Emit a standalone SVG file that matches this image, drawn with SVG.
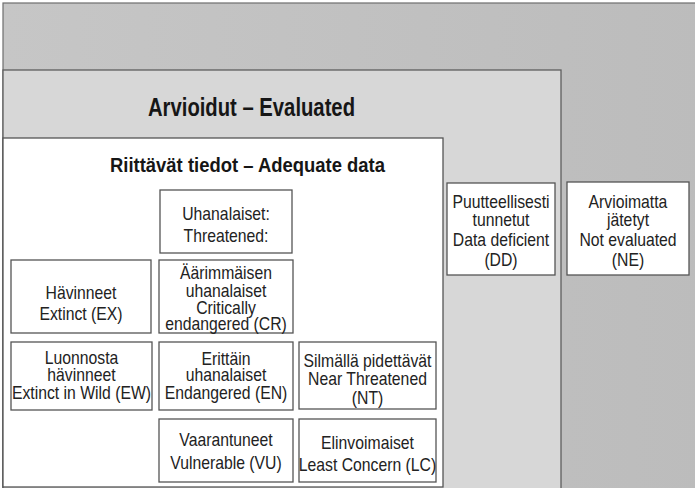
<svg xmlns="http://www.w3.org/2000/svg" width="695" height="488" viewBox="0 0 695 488">
<style>
.bg-outer{fill:#c2c2c2;stroke:#6e6e6e;stroke-width:1.2}
.bg-mid{fill:#d7d7d7;stroke:#5e5e5e;stroke-width:1.3}
.bg-in{fill:#ffffff;stroke:#555;stroke-width:1.3}
.box{fill:#ffffff;stroke:#555;stroke-width:1.3}
.t{font-family:"Liberation Sans",Arial,sans-serif;font-size:19px;fill:#222;text-anchor:middle}
.h{font-family:"Liberation Sans",Arial,sans-serif;font-weight:bold;fill:#161616}
</style>
<defs>
<linearGradient id="g1" x1="0" y1="0" x2="1" y2="0">
<stop offset="0" stop-color="#c6c6c6"/>
<stop offset="1" stop-color="#bcbcbc"/>
</linearGradient>
</defs>
<g id="not-evaluated-area">
<rect x="3" y="3" width="700" height="492" class="bg-outer" style="fill:url(#g1)"/>
</g>
<g id="evaluated-area">
<rect x="3" y="70" width="558" height="425" class="bg-mid"/>
<text class="h" x="148" y="116" font-size="25" textLength="207" lengthAdjust="spacingAndGlyphs">Arvioidut – Evaluated</text>
</g>
<g id="adequate-data-area">
<rect x="3" y="138" width="440" height="349" class="bg-in"/>
<text class="h" x="110" y="172" font-size="20" textLength="275" lengthAdjust="spacingAndGlyphs">Riittävät tiedot – Adequate data</text>
</g>
<g id="threatened">
<rect x="160" y="190" width="132" height="63" class="box"/>
<g transform="translate(226 0) scale(0.83 1)"><text class="t" x="0" y="220">Uhanalaiset:</text><text class="t" x="0" y="242">Threatened:</text></g>
</g>
<g id="ex">
<rect x="11" y="260" width="140" height="73" class="box"/>
<g transform="translate(81 0) scale(0.83 1)"><text class="t" x="0" y="299">Hävinneet</text><text class="t" x="0" y="320">Extinct (EX)</text></g>
</g>
<g id="cr">
<rect x="159" y="260" width="134" height="73" class="box"/>
<g transform="translate(226 0) scale(0.83 1)"><text class="t" x="0" y="279">Äärimmäisen</text><text class="t" x="0" y="297">uhanalaiset</text><text class="t" x="0" y="314">Critically</text><text class="t" x="0" y="330">endangered (CR)</text></g>
</g>
<g id="ew">
<rect x="11" y="342" width="141" height="68" class="box"/>
<g transform="translate(81.5 0) scale(0.83 1)"><text class="t" x="0" y="364">Luonnosta</text><text class="t" x="0" y="381">hävinneet</text><text class="t" x="0" y="399">Extinct in Wild (EW)</text></g>
</g>
<g id="en">
<rect x="159" y="342" width="134" height="68" class="box"/>
<g transform="translate(226 0) scale(0.83 1)"><text class="t" x="0" y="365">Erittäin</text><text class="t" x="0" y="381">uhanalaiset</text><text class="t" x="0" y="399">Endangered (EN)</text></g>
</g>
<g id="nt">
<rect x="299" y="342" width="137" height="67" class="box"/>
<g transform="translate(367.5 0) scale(0.83 1)"><text class="t" x="0" y="367">Silmällä pidettävät</text><text class="t" x="0" y="385">Near Threatened</text><text class="t" x="0" y="404">(NT)</text></g>
</g>
<g id="vu">
<rect x="159" y="419" width="134" height="63" class="box"/>
<g transform="translate(226 0) scale(0.83 1)"><text class="t" x="0" y="446">Vaarantuneet</text><text class="t" x="0" y="469">Vulnerable (VU)</text></g>
</g>
<g id="lc">
<rect x="299" y="419" width="137" height="63" class="box"/>
<g transform="translate(367.5 0) scale(0.83 1)"><text class="t" x="0" y="449">Elinvoimaiset</text><text class="t" x="0" y="471">Least Concern (LC)</text></g>
</g>
<g id="dd">
<rect x="447" y="183" width="108" height="92" class="box"/>
<g transform="translate(501 0) scale(0.83 1)"><text class="t" x="0" y="208">Puutteellisesti</text><text class="t" x="0" y="226">tunnetut</text><text class="t" x="0" y="246">Data deficient</text><text class="t" x="0" y="266">(DD)</text></g>
</g>
<g id="ne">
<rect x="567" y="182" width="122" height="93" class="box"/>
<g transform="translate(628 0) scale(0.83 1)"><text class="t" x="0" y="208">Arvioimatta</text><text class="t" x="0" y="226">jätetyt</text><text class="t" x="0" y="246">Not  evaluated</text><text class="t" x="0" y="266">(NE)</text></g>
</g>
<g id="connectors"/>
</svg>
